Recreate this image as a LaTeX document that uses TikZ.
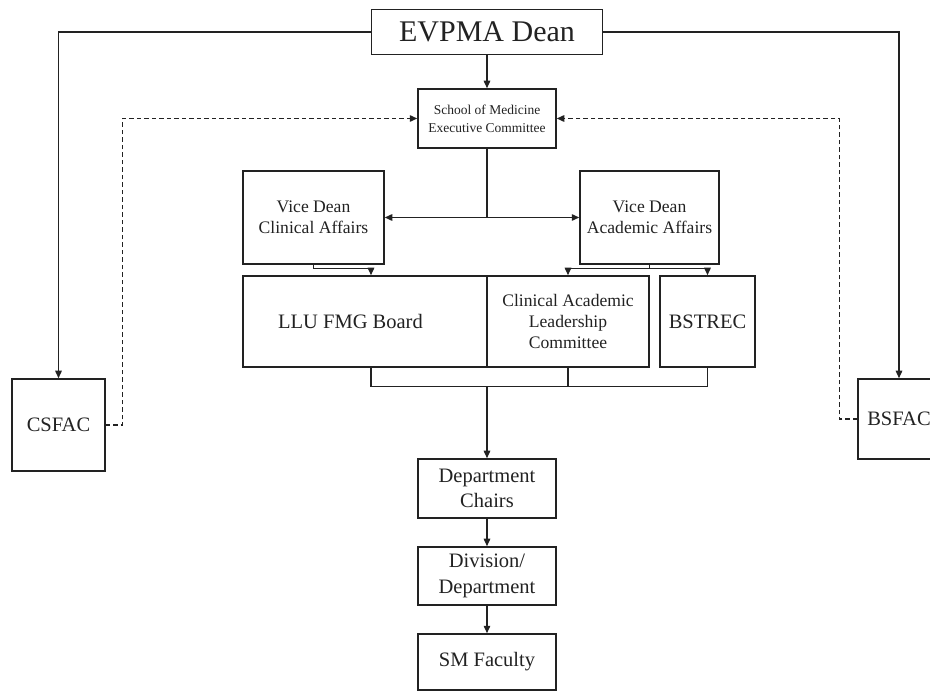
\documentclass[tikz,border=0pt]{standalone}
\usepackage{fontspec}
\setmainfont{Liberation Serif}
\usetikzlibrary{arrows.meta,calc}
\definecolor{ink}{HTML}{222222}
\begin{document}
\begin{tikzpicture}[x=1pt,y=-1pt,
  box/.style={draw=ink,line width=1.5pt,inner sep=0pt,align=center,text=ink},
  conn/.style={draw=ink,line width=1.4pt},
  arr/.style={conn,-{Triangle[length=7.5pt,width=6.5pt]}},
  darr/.style={conn,dash pattern=on 4.5pt off 3pt,-{Triangle[length=7.5pt,width=6.5pt]}},
  big/.style={font=\fontsize{20.5}{25.5}\selectfont},
  mid/.style={font=\fontsize{17.6}{21}\selectfont},
  small/.style={font=\fontsize{13.5}{18}\selectfont}]
\useasboundingbox (0,0) rectangle (930,692);
\clip (0,0) rectangle (930,692);
\node[box,minimum width=231,minimum height=45,font=\fontsize{30}{34}\selectfont] (ev) at (487,32) {EVPMA Dean};
\node[box,minimum width=138,minimum height=59,small] (som) at (487,118.5) {School of Medicine\\Executive Committee};
\node[box,minimum width=141,minimum height=93,mid] (vdc) at (313.5,217.5) {Vice Dean\\Clinical Affairs};
\node[box,minimum width=139,minimum height=93,mid] (vda) at (649.5,217.5) {Vice Dean\\Academic Affairs};
\node[box,minimum width=244,minimum height=91,big] (fmg) at (365,321.5) {LLU FMG Board\hspace*{29pt}};
\node[box,minimum width=162,minimum height=91,mid] (calc) at (568,321.5) {Clinical Academic\\Leadership\\Committee};
\node[box,minimum width=95,minimum height=91,big] (bst) at (707.5,321.5) {BSTREC};
\node[box,minimum width=138,minimum height=59,big] (dc) at (487,488.5) {Department\\Chairs};
\node[box,minimum width=138,minimum height=58,big] (dd) at (487,576) {Division/\\Department};
\node[box,minimum width=138,minimum height=56,big] (smf) at (487,662) {SM Faculty};
\node[box,minimum width=93,minimum height=92,big] (cs) at (58.5,425) {CSFAC};
\node[box,minimum width=82,minimum height=80,big] (bs) at (899,419) {BSFAC};
% top connections
\draw[arr] (ev.west) -| (cs.north);
\draw[arr] (ev.east) -| (bs.north);
\draw[arr] (ev.south) -- (som.north);
\draw[conn] (som.south) -- (som.south |- vdc.east) coordinate (j);
\draw[arr] (j) -- (vdc.east);
\draw[arr] (j) -- (vda.west);
% vice deans to committees
\draw[arr] (vdc.south) -- ++(0,4) -| ([xshift=6pt]fmg.north);
\draw[conn] (vda.south) -- ++(0,4) coordinate (va);
\draw[arr] (va) -| (calc.north);
\draw[arr] (va) -| (bst.north);
% committees to department chairs
\draw[conn] ([xshift=6pt]fmg.south) -- ++(0,19) coordinate (b1) -| (bst.south);
\draw[conn] (calc.south) -- (calc.south |- b1);
\draw[arr] (dc.north |- b1) -- (dc.north);
\draw[arr] (dc.south) -- (dd.north);
\draw[arr] (dd.south) -- (smf.north);
% dashed advisory links
\draw[darr] (cs.east) -- ++(17,0) |- (som.west);
\draw[darr] (bs.west) -- ++(-18,0) |- (som.east);
\end{tikzpicture}
\end{document}
